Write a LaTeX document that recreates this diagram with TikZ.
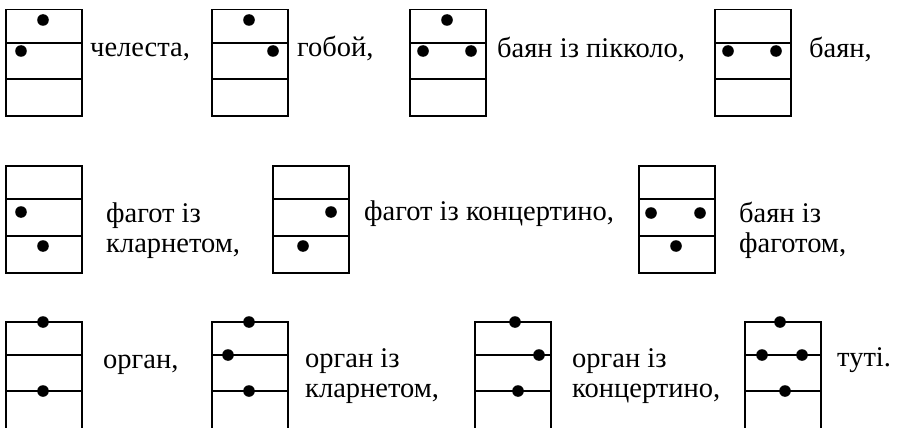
\documentclass[tikz,border=0pt]{standalone}
\usepackage{fontspec}
\setmainfont{Liberation Serif}
\begin{document}
\begin{tikzpicture}[x=1pt,y=-1pt,
  boxline/.style={draw=black,line width=1.5pt},
  regdot/.style={fill=black},
  lbl/.style={anchor=base west,inner sep=0pt,font=\fontsize{28.5}{30}\selectfont,align=left}]
\useasboundingbox (0,0) rectangle (897,428);
\clip (0,0) rectangle (897,428);
% box macro: left x, top y, line1, line2, bottom
\newcommand{\regbox}[5]{%
  \draw[boxline] (#1,#2) rectangle (#1+76,#5);
  \draw[boxline] (#1,#3) -- (#1+76,#3);
  \draw[boxline] (#1,#4) -- (#1+76,#4);}
\newcommand{\rdot}[2]{\fill[regdot] (#1,#2) circle (5.8);}
% Row 1
\regbox{6}{9.5}{43}{79}{116}
\rdot{43}{20}\rdot{21}{51}
\node[lbl] (t1) at (90,57) {челеста,};
\regbox{212}{9.5}{43}{79}{116}
\rdot{249}{20}\rdot{273}{51}
\node[lbl] (t2) at (297,57) {гобой,};
\regbox{410}{9.5}{43}{79}{116}
\rdot{447}{20}\rdot{423}{51}\rdot{471}{51}
\node[lbl] (t3) at (497,58) {баян із пікколо,};
\regbox{715}{9.5}{43}{79}{116}
\rdot{728}{51}\rdot{776}{51}
\node[lbl] (t4) at (809,58) {баян,};
% Row 2
\regbox{6}{166}{199}{236}{273}
\rdot{21}{212}\rdot{43}{246}
\node[lbl] (t5) at (106,252) {фагот із\\кларнетом,};
\regbox{273}{166}{199}{236}{273}
\rdot{331}{212}\rdot{303}{246}
\node[lbl] (t6) at (364,220) {фагот із концертино,};
\regbox{639}{166}{199}{236}{273}
\rdot{651}{213}\rdot{700}{213}\rdot{676}{246}
\node[lbl] (t7) at (739,252) {баян із\\фаготом,};
% Row 3
\regbox{6}{322}{355}{391}{432}
\rdot{43}{322}\rdot{43}{391}
\node[lbl] (t8) at (103,368) {орган,};
\regbox{212}{322}{355}{391}{432}
\rdot{249}{322}\rdot{228}{355}\rdot{249}{391}
\node[lbl] (t9) at (305,397) {орган із\\кларнетом,};
\regbox{475}{322}{355}{391}{432}
\rdot{515}{322}\rdot{539}{355}\rdot{518}{391}
\node[lbl] (t10) at (572,397) {орган із\\концертино,};
\regbox{745}{322}{355}{391}{432}
\rdot{780}{322}\rdot{762}{355}\rdot{802}{355}\rdot{785}{391}
\node[lbl] (t11) at (837,366) {туті.};
\end{tikzpicture}
\end{document}
